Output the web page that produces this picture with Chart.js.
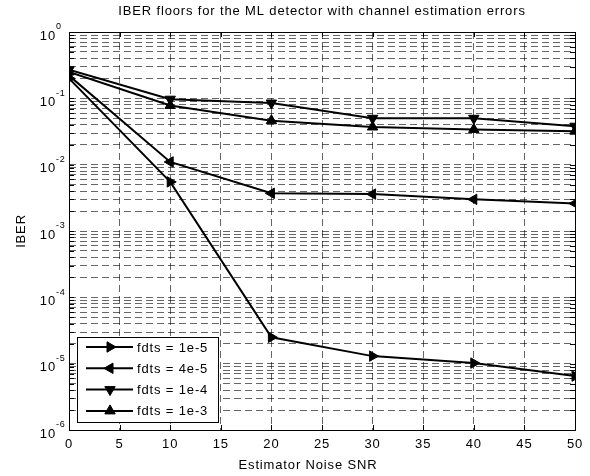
<!DOCTYPE html>
<html>
<head>
<meta charset="utf-8">
<script src="https://cdn.jsdelivr.net/npm/chart.js@4/dist/chart.umd.min.js"></script>
<style>
  html, body { margin: 0; padding: 0; background: #ffffff; }
  #wrap { width: 590px; height: 476px; }
</style>
</head>
<body>
<div id="wrap"><canvas id="c" width="590" height="476"></canvas></div>
<script>
// ---- data ----
const snr = [0, 10, 20, 30, 40, 50];
const seriesNames = ['fdts = 1e-5', 'fdts = 4e-5', 'fdts = 1e-4', 'fdts = 1e-3'];
const ber_1e5 = [0.20, 0.0055, 2.5e-5, 1.3e-5, 1.02e-5, 6.5e-6];
const ber_4e5 = [0.22, 0.011, 0.0037, 0.0036, 0.0030, 0.0026];
const ber_1e4 = [0.27, 0.097, 0.085, 0.050, 0.050, 0.038];
const ber_1e3 = [0.25, 0.078, 0.046, 0.037, 0.034, 0.032];
const xTicks = [0, 5, 10, 15, 20, 25, 30, 35, 40, 45, 50];
const yExponents = [0, -1, -2, -3, -4, -5, -6];
const titleText = 'IBER floors for the ML detector with channel estimation errors';
const xLabel = 'Estimator Noise SNR';
const yLabel = 'IBER';

const FONT = '"Liberation Sans", Arial, Helvetica, sans-serif';
const SPACING = '0.85px';
const markerRot = [90, 270, 180, 0];
const allSeries = [ber_1e5, ber_4e5, ber_1e4, ber_1e3];

const datasets = allSeries.map((s, i) => ({
  label: seriesNames[i],
  data: snr.map((x, j) => ({ x: x, y: s[j] })),
  borderColor: '#000',
  backgroundColor: '#000',
  borderWidth: 2,
  pointStyle: 'triangle',
  pointRotation: markerRot[i],
  pointRadius: 6,
  pointBorderWidth: 1,
  pointBackgroundColor: '#000',
  pointBorderColor: '#000',
  tension: 0,
  fill: false
}));

function drawTri(ctx, x, y, r, rotDeg) {
  let rad = rotDeg * Math.PI / 180;
  ctx.beginPath();
  ctx.moveTo(x + Math.sin(rad) * r, y - Math.cos(rad) * r);
  rad += 2 * Math.PI / 3;
  ctx.lineTo(x + Math.sin(rad) * r, y - Math.cos(rad) * r);
  rad += 2 * Math.PI / 3;
  ctx.lineTo(x + Math.sin(rad) * r, y - Math.cos(rad) * r);
  ctx.closePath();
  ctx.fill();
  ctx.stroke();
}

const matlabPlugin = {
  id: 'matlab',
  beforeDraw(chart) {
    if ('letterSpacing' in chart.ctx) chart.ctx.letterSpacing = SPACING;
  },
  afterDraw(chart) {
    const ctx = chart.ctx;
    const a = chart.chartArea;
    const xs = chart.scales.x, ys = chart.scales.y;
    ctx.save();
    if ('letterSpacing' in ctx) ctx.letterSpacing = SPACING;
    // axes box
    ctx.strokeStyle = '#000';
    ctx.lineWidth = 1;
    ctx.setLineDash([]);
    ctx.strokeRect(Math.round(a.left) + 0.5, Math.round(a.top) + 0.5,
      Math.round(a.right - a.left), Math.round(a.bottom - a.top));
    // inward ticks
    ctx.beginPath();
    ys.ticks.forEach(t => {
      const y = Math.round(ys.getPixelForValue(t.value)) + 0.5;
      ctx.moveTo(a.left, y); ctx.lineTo(a.left + 5, y);
      ctx.moveTo(a.right, y); ctx.lineTo(a.right - 5, y);
    });
    xs.ticks.forEach(t => {
      const x = Math.round(xs.getPixelForValue(t.value)) + 0.5;
      ctx.moveTo(x, a.bottom); ctx.lineTo(x, a.bottom - 5);
      ctx.moveTo(x, a.top); ctx.lineTo(x, a.top + 5);
    });
    ctx.stroke();
    // y tick labels 10^n
    ctx.fillStyle = '#000';
    yExponents.forEach(e => {
      const y = ys.getPixelForValue(Math.pow(10, e));
      ctx.font = '13px ' + FONT;
      ctx.textAlign = 'right';
      ctx.textBaseline = 'middle';
      ctx.fillText('10', 56, y + 4);
      ctx.font = '9px ' + FONT;
      ctx.textAlign = 'left';
      ctx.fillText(String(e), 56, y - 5);
    });
    // x axis label
    ctx.font = '13px ' + FONT;
    ctx.textAlign = 'center';
    ctx.textBaseline = 'middle';
    ctx.fillText(xLabel, 308, 465);
    // legend box
    const lx = 77, ly = 337, lw = 141, lh = 85, rowH = 21.3;
    ctx.fillStyle = '#fff';
    ctx.fillRect(lx, ly, lw, lh);
    ctx.strokeStyle = '#000';
    ctx.lineWidth = 1;
    ctx.strokeRect(lx + 0.5, ly + 0.5, lw, lh);
    chart.data.datasets.forEach((ds, i) => {
      const cy = ly + 10 + i * rowH;
      ctx.strokeStyle = ds.borderColor;
      ctx.lineWidth = ds.borderWidth;
      ctx.beginPath();
      ctx.moveTo(86, cy); ctx.lineTo(133, cy);
      ctx.stroke();
      ctx.fillStyle = ds.pointBackgroundColor;
      ctx.lineWidth = 1;
      drawTri(ctx, 110, cy, ds.pointRadius, ds.pointRotation);
      ctx.fillStyle = '#000';
      ctx.font = '13px ' + FONT;
      ctx.textAlign = 'left';
      ctx.textBaseline = 'middle';
      ctx.fillText(ds.label, 137, cy + 1);
    });
    ctx.restore();
  }
};

new Chart(document.getElementById('c'), {
  type: 'line',
  data: { datasets: datasets },
  plugins: [matlabPlugin],
  options: {
    responsive: false,
    animation: false,
    devicePixelRatio: 1,
    layout: { padding: { left: 0, right: 15, top: 0, bottom: 0 } },
    plugins: {
      legend: { display: false },
      tooltip: { enabled: false },
      title: {
        display: true,
        text: titleText,
        fullSize: false,
        color: '#000',
        font: { family: FONT, size: 13, weight: 'normal' },
        padding: { top: 4, bottom: 12.4 }
      }
    },
    scales: {
      x: {
        type: 'linear',
        min: 0, max: 50,
        afterBuildTicks: s => { s.ticks = xTicks.map(v => ({ value: v })); },
        afterFit: s => { s.height = 46; },
        ticks: { color: '#000', font: { family: FONT, size: 13 }, padding: 7, maxRotation: 0, autoSkip: false },
        grid: { color: 'rgba(0,0,0,0.6)', lineWidth: 1, drawTicks: false },
        border: { display: false, dash: [7, 4] },
        title: { display: false }
      },
      y: {
        type: 'logarithmic',
        min: 1e-6, max: 1,
        afterBuildTicks: s => {
          const t = [];
          for (let e = -6; e < 0; e++) {
            for (let m = 1; m <= 9; m++) t.push({ value: m * Math.pow(10, e), major: m === 1 });
          }
          t.push({ value: 1, major: true });
          s.ticks = t;
        },
        afterFit: s => { s.width = 69; },
        ticks: { display: false, autoSkip: false },
        grid: { color: 'rgba(0,0,0,0.6)', lineWidth: 1, drawTicks: false },
        border: { display: false, dash: [7, 4] },
        title: { display: true, text: yLabel, color: '#000', font: { family: FONT, size: 13 }, padding: { top: 14, bottom: 0 } }
      }
    }
  }
});
</script>
</body>
</html>
